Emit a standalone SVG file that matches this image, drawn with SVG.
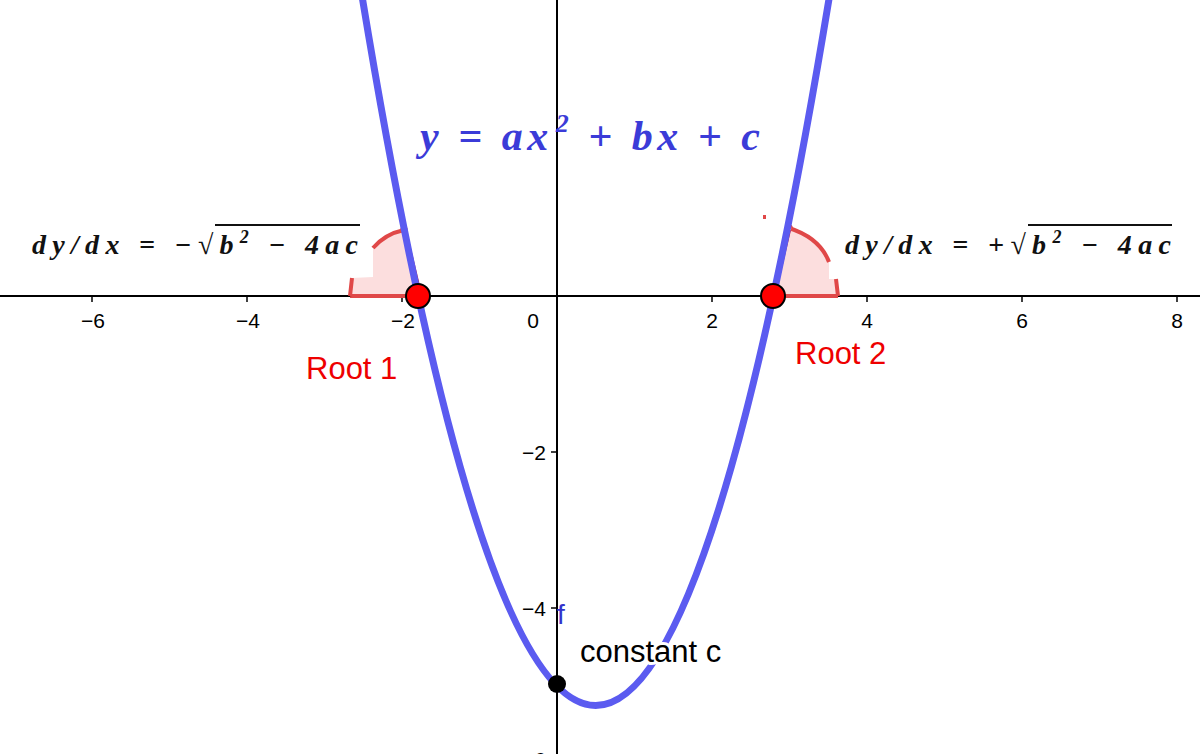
<svg xmlns="http://www.w3.org/2000/svg" width="1200" height="754" viewBox="0 0 1200 754">
<style>
.tk{font-family:"Liberation Sans",Arial,sans-serif;font-size:21px;fill:#000}
.mth{font-family:"Liberation Serif","Times New Roman",serif;font-style:italic;font-weight:bold}
.lbl{font-family:"Liberation Sans",Arial,sans-serif;font-size:31px}
.ang{fill:#fcdede;stroke:none}
.angs{fill:none;stroke:#e04848;stroke-width:4}
</style>
<rect width="1200" height="754" fill="#fff"/>
<g id="axes" stroke="#000" stroke-width="2">
<line x1="0" y1="296" x2="1200" y2="296"/>
<line x1="557" y1="0" x2="557" y2="754"/>
<g stroke-width="1.5">
<line x1="92" y1="296" x2="92" y2="302"/><line x1="247" y1="296" x2="247" y2="302"/><line x1="402" y1="296" x2="402" y2="302"/>
<line x1="712" y1="296" x2="712" y2="302"/><line x1="867" y1="296" x2="867" y2="302"/><line x1="1022" y1="296" x2="1022" y2="302"/><line x1="1177" y1="296" x2="1177" y2="302"/>
<line x1="551" y1="452" x2="557" y2="452"/><line x1="551" y1="608" x2="557" y2="608"/>
</g>
</g>
<g id="ticks">
<text class="tk" x="93" y="328" text-anchor="middle">−6</text>
<text class="tk" x="248" y="328" text-anchor="middle">−4</text>
<text class="tk" x="403" y="328" text-anchor="middle">−2</text>
<text class="tk" x="533" y="328" text-anchor="middle">0</text>
<text class="tk" x="712" y="328" text-anchor="middle">2</text>
<text class="tk" x="867" y="328" text-anchor="middle">4</text>
<text class="tk" x="1022" y="328" text-anchor="middle">6</text>
<text class="tk" x="1177" y="328" text-anchor="middle">8</text>
<text class="tk" x="546" y="460" text-anchor="end">−2</text>
<text class="tk" x="546" y="616" text-anchor="end">−4</text>
<text class="tk" x="546" y="767" text-anchor="end">−6</text>
</g>
<g id="angle1">
<path class="ang" d="M420,296 L404,230 Q385,234 373,248 L373,277 L352,278 L350,296 Z"/>
<path class="angs" d="M404,230 Q385,234 373,248 M352,278 L350,296 M350,296 L420,296"/>
<line x1="404" y1="230" x2="420" y2="296" stroke="#b02050" stroke-width="5"/>
<circle cx="404" cy="230" r="3" fill="#fff" stroke="#e04848" stroke-width="1.5"/>
</g>
<g id="angle2">
<path class="ang" d="M773,296 L789,228 Q820,238 829,262 L829,279 L836,279 L838,296 Z"/>
<path class="angs" d="M789,228 Q820,238 829,262 M836,279 L838,296 M773,296 L838,296"/>
<line x1="789" y1="228" x2="773" y2="296" stroke="#b02050" stroke-width="5"/>
<circle cx="789" cy="228" r="3" fill="#fff" stroke="#e04848" stroke-width="1.5"/>
<rect x="763" y="215" width="3" height="4" fill="#e04848"/>
</g>
<g id="curve">
<path d="M324.5,-250 Q595.75,1661 867,-250" fill="none" stroke="#5b5bf0" stroke-width="7"/>
<text x="557" y="624" font-family="Liberation Sans,Arial,sans-serif" font-size="28" fill="#3333cc">f</text>
</g>
<g id="roots">
<circle cx="418" cy="296" r="12" fill="#f00" stroke="#000" stroke-width="2"/>
<circle cx="773" cy="296" r="12" fill="#f00" stroke="#000" stroke-width="2"/>
<text class="lbl" x="306" y="379" fill="#e00">Root 1</text>
<text class="lbl" x="795" y="364" fill="#e00">Root 2</text>
</g>
<g id="cpoint">
<text class="lbl" x="580" y="662" fill="#000" stroke="#fff" stroke-width="6" paint-order="stroke">constant c</text>
<circle cx="557" cy="684" r="9" fill="#000"/>
</g>
<g id="formulas">
<text class="mth" x="420" y="150" font-size="42" fill="#3b3bd8" textLength="340" lengthAdjust="spacing">y = ax<tspan font-size="26" dy="-18" dx="3">2</tspan><tspan dy="18"> + bx + c</tspan></text>
<text class="mth" x="32" y="254" font-size="28" fill="#111" textLength="326" lengthAdjust="spacing">dy/dx = −√<tspan>b</tspan><tspan font-size="18" dy="-11">2</tspan><tspan dy="11"> − 4ac</tspan></text>
<line x1="215" y1="225" x2="360" y2="225" stroke="#111" stroke-width="2"/>
<text class="mth" x="845" y="254" font-size="28" fill="#111" textLength="326" lengthAdjust="spacing">dy/dx = +√<tspan>b</tspan><tspan font-size="18" dy="-11">2</tspan><tspan dy="11"> − 4ac</tspan></text>
<line x1="1028" y1="225" x2="1172" y2="225" stroke="#111" stroke-width="2"/>
</g>
</svg>
